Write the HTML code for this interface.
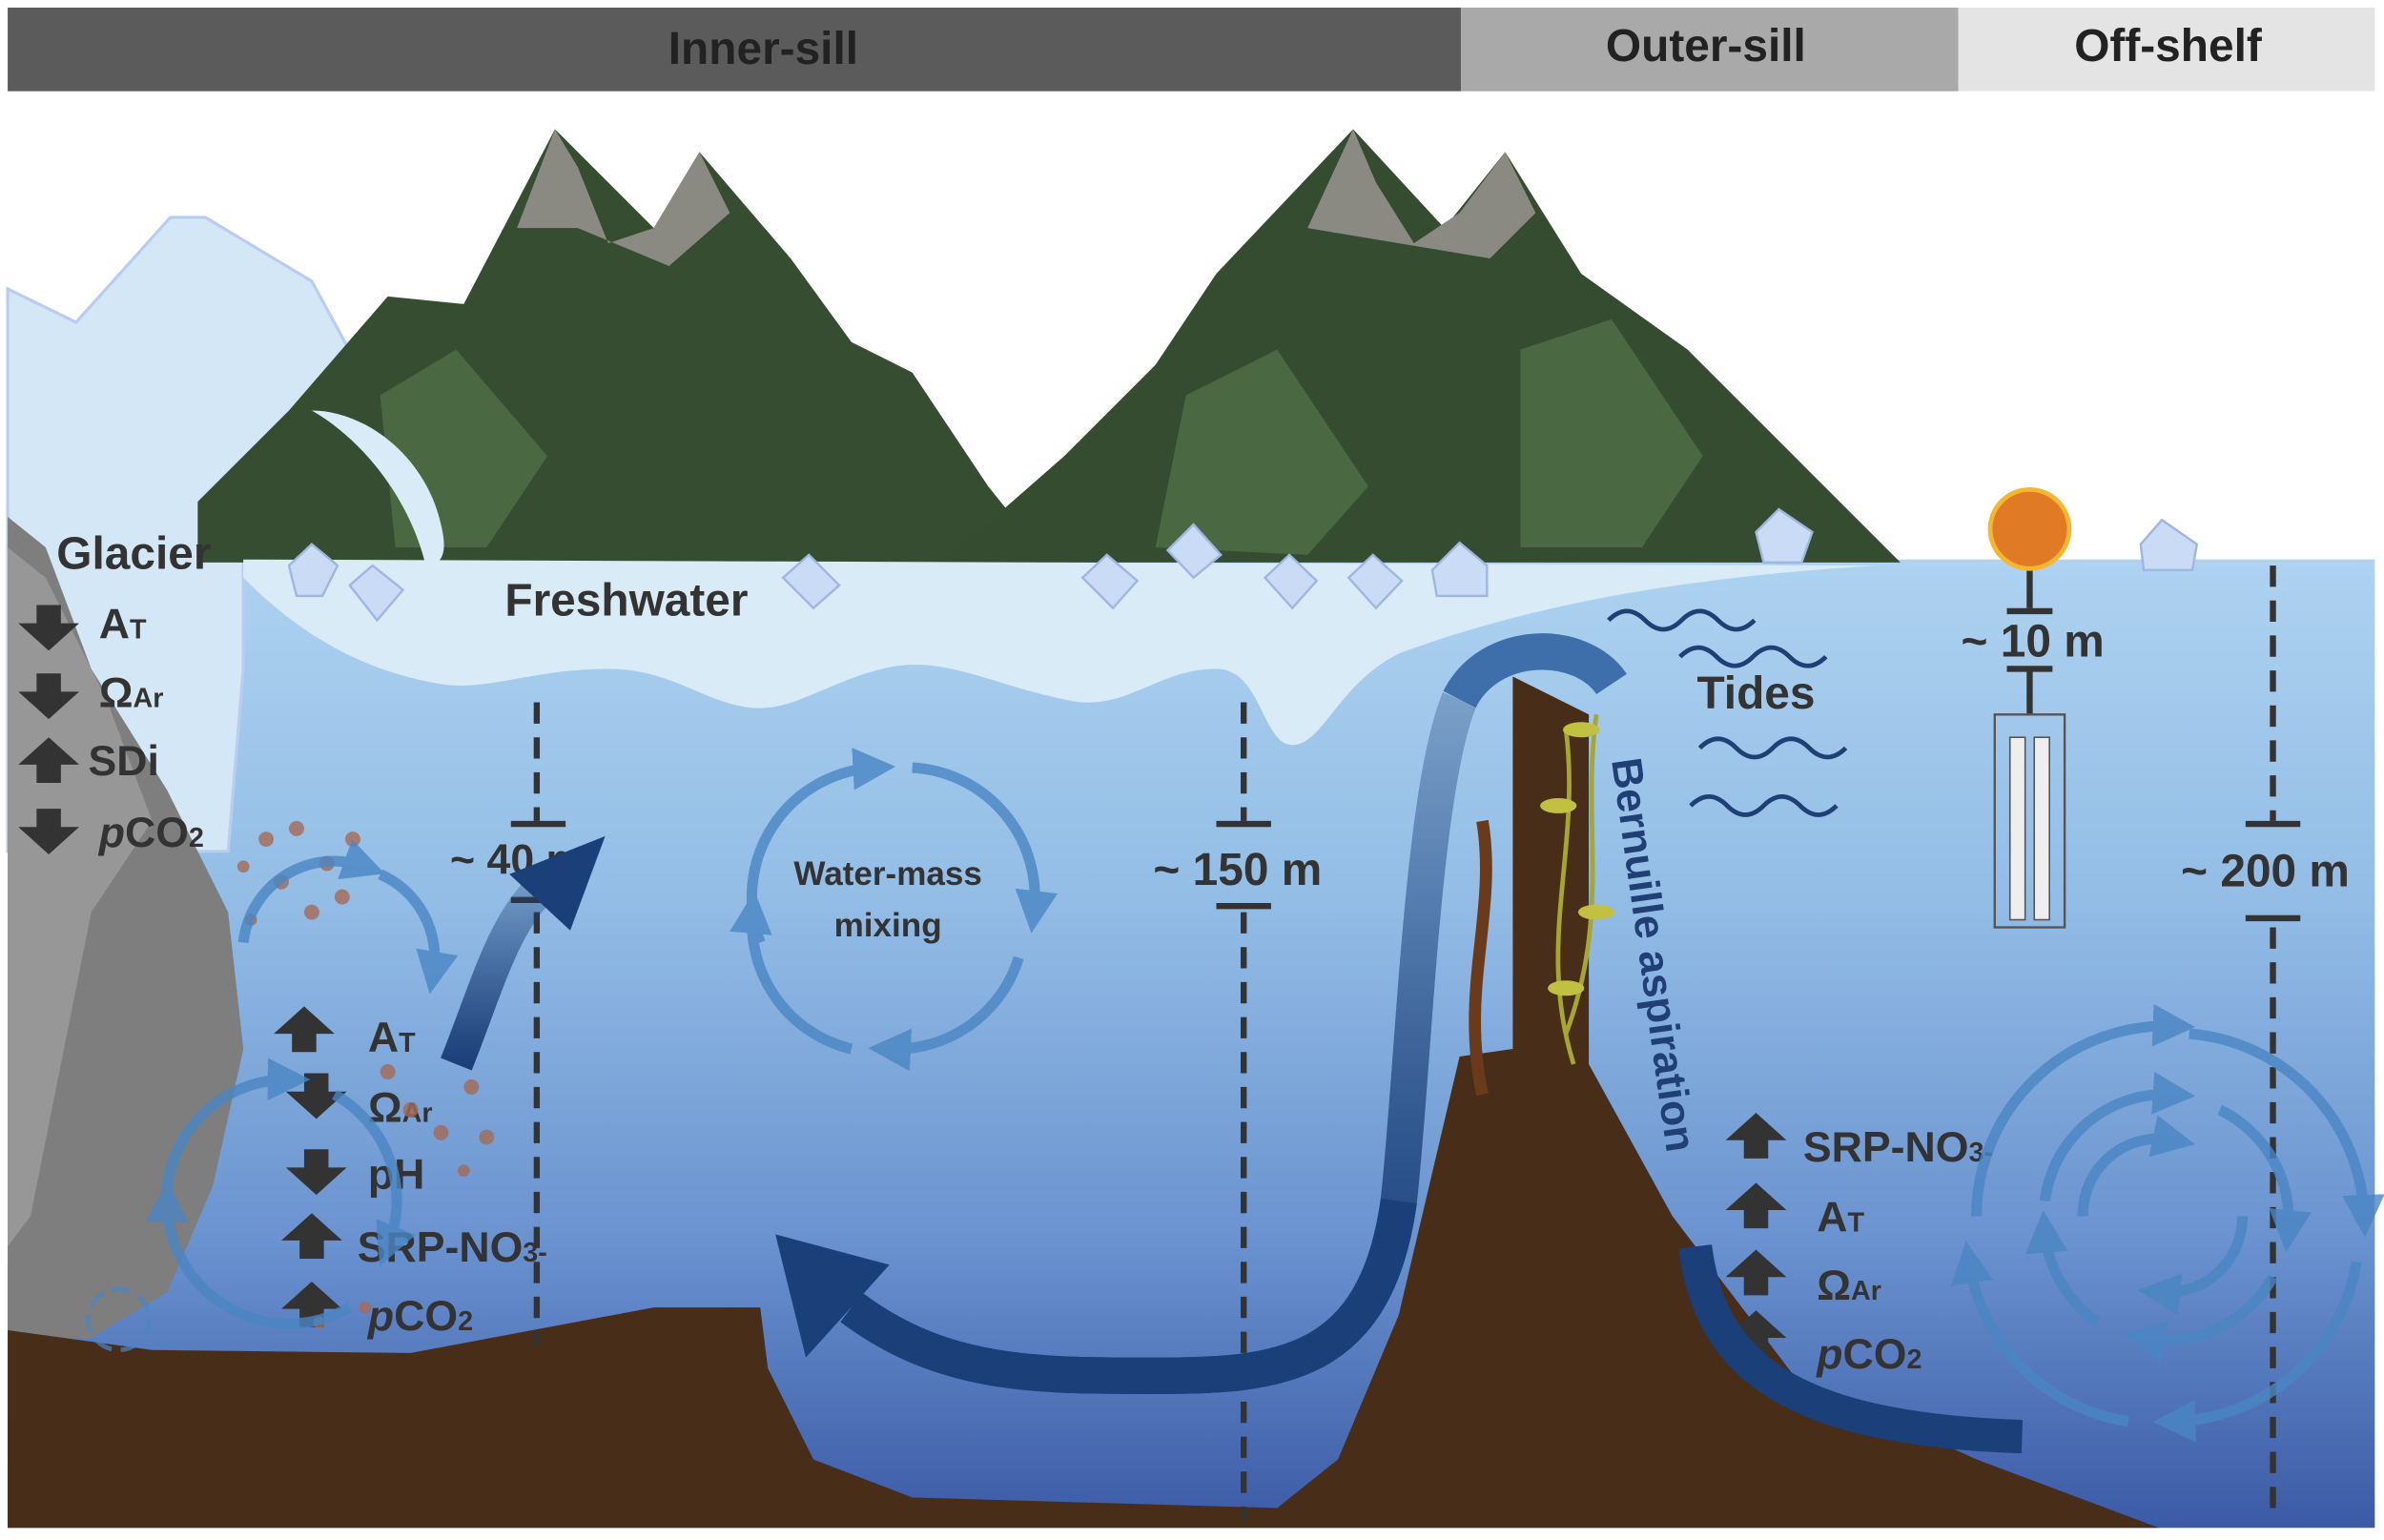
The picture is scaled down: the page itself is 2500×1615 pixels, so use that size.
<!DOCTYPE html>
<html><head><meta charset="utf-8"><style>
html,body{margin:0;padding:0;background:#fff}
svg{display:block}
text{font-family:"Liberation Sans",sans-serif;font-weight:bold}
</style></head><body>
<svg width="2500" height="1615" viewBox="0 0 1568 1013" xmlns="http://www.w3.org/2000/svg">
<defs>
<linearGradient id="w" x1="0" y1="0" x2="0" y2="1">
<stop offset="0" stop-color="#aed2f0"/><stop offset="0.35" stop-color="#93bde6"/><stop offset="0.7" stop-color="#6a93d0"/><stop offset="1" stop-color="#3c5aa6"/></linearGradient>
<linearGradient id="fa" x1="0" y1="1" x2="0" y2="0"><stop offset="0" stop-color="#1b3f78"/><stop offset="1" stop-color="#1b3f78" stop-opacity="0.3"/></linearGradient>
<marker id="ah" markerWidth="4" markerHeight="4" refX="2" refY="2" orient="auto"><path d="M0,0 L4,2 L0,4z" fill="#4a86c4"/></marker>
</defs>
<rect x="5" y="5" width="956" height="55" fill="#5b5b5b"/>
<rect x="961" y="5" width="327" height="55" fill="#a9a9a9"/>
<rect x="1288" y="5" width="274" height="55" fill="#e4e4e4"/>
<text x="502" y="42" font-size="30" text-anchor="middle" fill="#222">Inner-sill</text>
<text x="1122" y="40" font-size="30" text-anchor="middle" fill="#222">Outer-sill</text>
<text x="1426" y="40" font-size="30" text-anchor="middle" fill="#222">Off-shelf</text>
<rect x="5" y="368" width="1557" height="637" fill="url(#w)"/>
<polygon points="5,190 50,212 112,143 135,143 205,185 235,240 160,370 160,440 150,560 5,560" fill="#d3e7f6" stroke="#b9cdf0" stroke-width="2"/>
<polygon points="5,340 30,360 60,440 110,520 150,600 160,690 140,780 110,850 60,880 5,880" fill="#7e7e7e"/>
<polygon points="30,380 70,460 100,540 60,600 40,700 20,800 5,820 5,360" fill="#979797"/>
<polygon points="130,330 190,270 255,195 305,200 365,85 430,150 460,100 520,170 560,225 600,245 650,320 690,370 130,370" fill="#364d32"/>
<polygon points="365,85 380,110 400,160 430,150 460,100 480,140 440,175 380,150 340,150" fill="#8a8a82"/>
<polygon points="620,370 700,300 760,240 800,180 890,85 950,150 990,100 1040,180 1110,230 1180,300 1250,370" fill="#354c31"/>
<polygon points="890,85 905,120 930,160 960,140 990,100 1010,140 980,170 920,160 860,150" fill="#8a8a82"/>
<polygon points="250,260 300,230 360,300 320,360 260,360" fill="#4a6842"/>
<polygon points="780,260 840,230 900,320 860,365 760,360" fill="#4a6842"/>
<polygon points="1000,230 1060,210 1120,300 1080,360 1000,360" fill="#4a6842"/>
<path d="M160,368 L1235,372 C1100,380 1000,400 920,430 C880,450 870,490 850,490 C830,490 830,440 800,440 C760,440 740,470 700,460 C650,450 620,430 580,440 C540,450 520,470 490,465 C460,460 440,440 400,440 C350,440 320,455 290,450 C230,440 190,410 160,380z" fill="#d8ebf7"/>
<path d="M205,270 C240,270 280,300 290,345 C295,365 290,372 280,372 C270,330 240,290 205,270z" fill="#d8ebf7"/>
<g fill="#c9dbf5" stroke="#9fb6e2" stroke-width="1.5">
<polygon points="190,372 205,358 222,372 212,392 195,392"/>
<polygon points="230,385 245,372 265,388 248,408"/>
<polygon points="515,380 532,365 552,385 535,400"/>
<polygon points="712,380 728,365 748,382 732,400"/>
<polygon points="768,362 785,345 803,365 785,380"/>
<polygon points="832,380 848,365 866,382 850,400"/>
<polygon points="887,380 903,365 922,382 905,400"/>
<polygon points="942,375 960,357 978,372 978,392 945,392"/>
<polygon points="1155,350 1170,335 1192,350 1185,370 1160,370"/>
<polygon points="1408,358 1422,342 1445,358 1442,375 1410,375"/>
</g>
<path d="M5,875 L100,888 L270,890 L430,860 L500,860 L505,900 L535,960 L600,985 L840,992 L880,960 L920,865 L960,695 L995,690 L995,445 L1045,470 L1045,700 L1100,800 L1180,905 L1300,960 L1420,1005 L5,1005z" fill="#482d18"/>
<g stroke="#333" stroke-width="4" stroke-dasharray="14,9" fill="none">
<line x1="353" y1="462" x2="353" y2="540"/><line x1="353" y1="600" x2="353" y2="885"/>
<line x1="818" y1="462" x2="818" y2="540"/><line x1="818" y1="600" x2="818" y2="1000"/>
<line x1="1495" y1="372" x2="1495" y2="540"/><line x1="1495" y1="610" x2="1495" y2="1000"/>
</g>
<g stroke="#333" stroke-width="4">
<line x1="336" y1="542" x2="372" y2="542"/><line x1="336" y1="592" x2="372" y2="592"/>
<line x1="800" y1="542" x2="836" y2="542"/><line x1="800" y1="596" x2="836" y2="596"/>
<line x1="1477" y1="542" x2="1513" y2="542"/><line x1="1477" y1="604" x2="1513" y2="604"/>
<line x1="1335" y1="370" x2="1335" y2="400"/><line x1="1320" y1="402" x2="1350" y2="402"/>
<line x1="1320" y1="440" x2="1350" y2="440"/><line x1="1335" y1="440" x2="1335" y2="470"/>
</g>
<text x="340" y="575" font-size="28" text-anchor="middle" fill="#333">~ 40 m</text>
<text x="814" y="582" font-size="30" text-anchor="middle" fill="#333">~ 150 m</text>
<text x="1490" y="583" font-size="30" text-anchor="middle" fill="#333">~ 200 m</text>
<text x="1337" y="432" font-size="30" text-anchor="middle" fill="#333">~ 10 m</text>
<circle cx="1335" cy="348" r="26" fill="#e07a25" stroke="#f4b830" stroke-width="3"/>
<rect x="1312" y="470" width="46" height="140" fill="none" stroke="#555" stroke-width="1.5"/>
<rect x="1322" y="485" width="10" height="120" fill="#eee" stroke="#555"/>
<rect x="1338" y="485" width="10" height="120" fill="#eee" stroke="#555"/>
<text x="88" y="374" font-size="30" text-anchor="middle" fill="#333">Glacier</text>
<text x="412" y="405" font-size="30" text-anchor="middle" fill="#333">Freshwater</text>
<text x="1155" y="466" font-size="30" text-anchor="middle" fill="#333">Tides</text>
<g fill="none" stroke="#1f3f75" stroke-width="3">
<path d="M1058,408 q12,-12 24,0 t24,0 t24,0 t24,0"/>
<path d="M1105,432 q12,-12 24,0 t24,0 t24,0 t24,0"/>
<path d="M1118,492 q12,-12 24,0 t24,0 t24,0 t24,0"/>
<path d="M1112,530 q12,-12 24,0 t24,0 t24,0 t24,0"/>
</g>
<g fill="#333">
<path d="M24,398 h16 v12 h12 l-20,18 l-20,-18 h12z"/>
<path d="M24,443 h16 v12 h12 l-20,18 l-20,-18 h12z"/>
<path d="M32,485 l20,18 h-12 v12 h-16 v-12 h-12z"/>
<path d="M24,532 h16 v12 h12 l-20,18 l-20,-18 h12z"/>
<path d="M200,662 l20,18 h-12 v12 h-16 v-12 h-12z"/>
<path d="M200,706 h16 v12 h12 l-20,18 l-20,-18 h12z"/>
<path d="M200,756 h16 v12 h12 l-20,18 l-20,-18 h12z"/>
<path d="M205,798 l20,18 h-12 v12 h-16 v-12 h-12z"/>
<path d="M205,843 l20,18 h-12 v12 h-16 v-12 h-12z"/>
<path d="M1155,732 l20,18 h-12 v12 h-16 v-12 h-12z"/>
<path d="M1155,778 l20,18 h-12 v12 h-16 v-12 h-12z"/>
<path d="M1155,822 l20,18 h-12 v12 h-16 v-12 h-12z"/>
<path d="M1155,862 l20,18 h-12 v12 h-16 v-12 h-12z"/>
</g>
<g font-size="28" fill="#333">
<text x="65" y="420">A<tspan font-size="18">T</tspan></text>
<text x="65" y="465">Ω<tspan font-size="18">Ar</tspan></text>
<text x="58" y="510">SDi</text>
<text x="65" y="557"><tspan font-style="italic">p</tspan>CO<tspan font-size="18">2</tspan></text>
<text x="242" y="692">A<tspan font-size="18">T</tspan></text>
<text x="242" y="738">Ω<tspan font-size="18">Ar</tspan></text>
<text x="242" y="782">pH</text>
<text x="235" y="830">SRP-NO<tspan font-size="18">3-</tspan></text>
<text x="242" y="875"><tspan font-style="italic">p</tspan>CO<tspan font-size="18">2</tspan></text>
<text x="1186" y="764">SRP-NO<tspan font-size="18">3-</tspan></text>
<text x="1195" y="810">A<tspan font-size="18">T</tspan></text>
<text x="1195" y="855">Ω<tspan font-size="18">Ar</tspan></text>
<text x="1195" y="900"><tspan font-style="italic">p</tspan>CO<tspan font-size="18">2</tspan></text>
</g>
<g fill="#a66a55" opacity="0.8">
<circle cx="175" cy="552" r="5"/><circle cx="195" cy="545" r="5"/><circle cx="215" cy="568" r="5"/><circle cx="185" cy="580" r="5"/><circle cx="160" cy="570" r="4"/><circle cx="232" cy="552" r="5"/><circle cx="205" cy="600" r="5"/><circle cx="225" cy="590" r="5"/><circle cx="165" cy="605" r="4"/><circle cx="270" cy="730" r="5"/><circle cx="290" cy="745" r="5"/><circle cx="310" cy="715" r="5"/><circle cx="320" cy="748" r="5"/><circle cx="255" cy="705" r="5"/><circle cx="305" cy="770" r="4"/><circle cx="240" cy="860" r="4"/><circle cx="210" cy="870" r="4"/>
</g>
<g fill="none" stroke="#4a86c4" stroke-width="7" opacity="0.8" marker-end="url(#ah)">
<path d="M500,620 A85,85 0 0 1 575,505"/><path d="M600,505 A85,85 0 0 1 680,600"/>
<path d="M670,630 A85,85 0 0 1 585,690"/><path d="M560,690 A85,85 0 0 1 495,600"/>
<path d="M160,620 A60,60 0 0 1 240,570"/><path d="M250,575 A60,60 0 0 1 285,640"/>
<path d="M110,800 A80,80 0 0 1 190,710"/><path d="M220,720 A80,80 0 0 1 255,820"/>
<path d="M230,860 A80,80 0 0 1 110,790"/>
<path d="M1300,800 A125,125 0 0 1 1430,675"/><path d="M1440,680 A125,125 0 0 1 1555,800"/>
<path d="M1550,830 A125,125 0 0 1 1430,935"/><path d="M1400,935 A125,125 0 0 1 1295,830"/>
<path d="M1345,790 A80,80 0 0 1 1430,720"/><path d="M1460,730 A80,80 0 0 1 1505,810"/>
<path d="M1495,840 A80,80 0 0 1 1410,880"/><path d="M1380,870 A80,80 0 0 1 1345,810"/>
<path d="M1370,800 A50,50 0 0 1 1430,750"/><path d="M1475,800 A50,50 0 0 1 1420,850"/>
</g>
<circle cx="78" cy="868" r="20" fill="none" stroke="#4a86c4" stroke-width="3" stroke-dasharray="12,6" opacity="0.7"/>
<text x="584" y="582" font-size="22" text-anchor="middle" fill="#333">Water-mass</text>
<text x="584" y="616" font-size="22" text-anchor="middle" fill="#333">mixing</text>
<path d="M300,700 C320,650 330,610 355,585" fill="none" stroke="url(#fa)" stroke-width="22"/>
<polygon points="335,575 398,550 375,612" fill="#1b3f78"/>
<path d="M960,460 C980,420 1040,420 1060,450" fill="none" stroke="#3f6fab" stroke-width="24"/>
<path d="M960,460 C935,520 930,700 920,790 C905,900 840,905 760,905 C680,905 620,905 560,860" fill="none" stroke="url(#fa)" stroke-width="24"/>
<path d="M920,790 C905,900 840,905 760,905 C680,905 620,905 560,860" fill="none" stroke="#1b3f78" stroke-width="24"/>
<polygon points="510,812 585,832 530,893" fill="#1b3f78"/>
<path d="M1115,820 C1125,900 1180,940 1330,945" fill="none" stroke="#1b3f78" stroke-width="22"/>
<g stroke="#a6a630" stroke-width="3" fill="none"><path d="M1030,480 C1040,560 1010,620 1035,700"/><path d="M1050,470 C1040,540 1060,600 1030,680"/></g>
<g fill="#c2c040"><ellipse cx="1040" cy="480" rx="12" ry="5"/><ellipse cx="1025" cy="530" rx="12" ry="5"/><ellipse cx="1050" cy="600" rx="12" ry="5"/><ellipse cx="1030" cy="650" rx="12" ry="5"/></g>
<path d="M975,540 C985,600 960,650 975,720" stroke="#6a3a1a" stroke-width="8" fill="none"/>
<text transform="translate(1060,500) rotate(82)" font-size="28" fill="#1f3f75">Bernuille aspiration</text>
</svg>
</body></html>
